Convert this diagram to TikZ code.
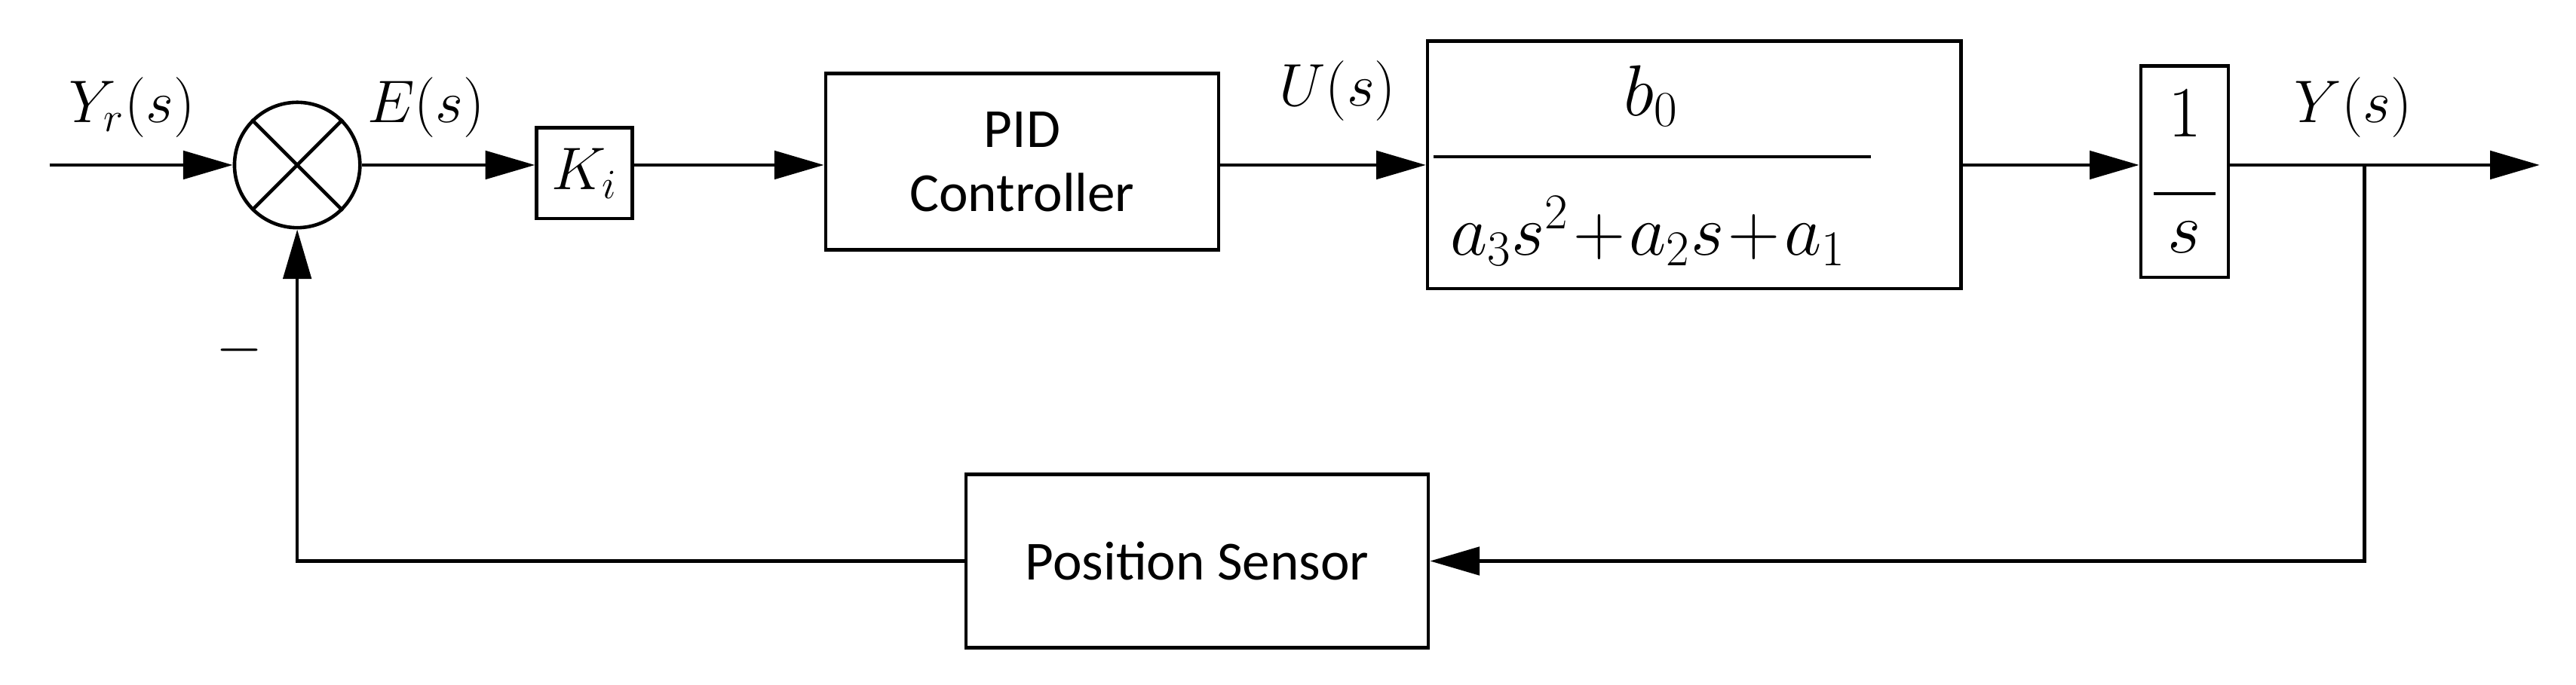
\documentclass[tikz,border=0pt]{standalone}
\usepackage{amsmath}
\usepackage{fontspec}
\setmainfont{Carlito}
\usetikzlibrary{arrows.meta,positioning}

\begin{document}
\begin{tikzpicture}[x=0.02cm,y=-0.02cm,
  blk/.style={rectangle, draw, line width=1.2pt, inner sep=0pt, font=\fontsize{19}{22}\selectfont, align=center},
  lbl/.style={font=\fontsize{22}{26}\selectfont},
  big/.style={font=\fontsize{26}{30}\selectfont},
  arrow/.style={-{Triangle[length=0.6cm,width=0.34cm]}, line width=1.2pt},
  line/.style={line width=1.2pt}
]
  \useasboundingbox (0,0) rectangle (1560,415);
  \coordinate (in) at (30,100);
  \node[circle, draw, line width=1.2pt, minimum size=1.52cm, inner sep=0pt] (sum) at (180,100) {};
  \draw[line] (sum.north west) -- (sum.south east) (sum.north east) -- (sum.south west);
  \node[blk, minimum width=1.16cm, minimum height=1.1cm, font=\fontsize{22}{26}\selectfont] (ki) at (354,105) {$K_i$};
  \node[blk, minimum width=4.76cm, minimum height=2.14cm] (pid) at (619,98) {PID\\Controller};
  \node[blk, minimum width=6.46cm, minimum height=3cm] (plant) at (1026,100) {};
  \node[big] (num) at (1000,58) {$b_0$};
  \node[big] (den) at (998,140) {$a_3s^2\!+\!a_2s\!+\!a_1$};
  \draw[line] (868,95) -- (1133,95);
  \node[blk, minimum width=1.06cm, minimum height=2.56cm, font=\fontsize{24}{26}\selectfont] (int) at (1323,104) {$1$\\[-6pt]\rule{0.75cm}{1pt}\\[-6pt]$s$};
  \node[blk, minimum width=5.6cm, minimum height=2.1cm] (sens) at (725,340) {Position Sensor};
  \coordinate (out) at (1538,100);
  \coordinate (br) at (1432,100);
  \coordinate (brd) at (1432,340);
  \coordinate (fb) at (180,340);

  \draw[arrow] (in) -- (sum);
  \draw[arrow] (sum) -- (ki.west |- sum);
  \draw[arrow] (ki.east |- sum) -- (pid.west |- sum);
  \draw[arrow] (pid.east |- sum) -- (plant.west |- sum);
  \draw[arrow] (plant.east |- sum) -- (int.west |- sum);
  \draw[arrow] (int.east |- sum) -- (out);
  \draw[arrow] (br) -- (brd) -- (sens.east);
  \draw[arrow] (sens.west) -- (fb) -- (sum);

  \node[lbl] (yr) at (80,65) {$Y_r(s)$};
  \node[lbl] (es) at (258,65) {$E(s)$};
  \node[lbl] (us) at (810,55) {$U(s)$};
  \node[lbl] (ys) at (1425,65) {$Y(s)$};
  \node[lbl] (minus) at (145,212) {$-$};
\end{tikzpicture}
\end{document}
